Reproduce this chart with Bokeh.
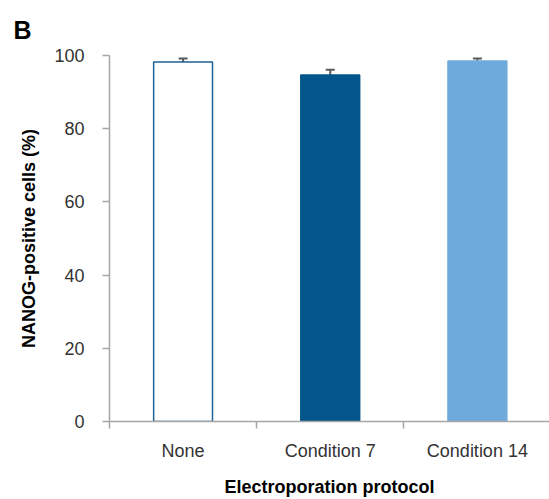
from bokeh.plotting import figure
from bokeh.models import ColumnDataSource, FixedTicker, Whisker, TeeHead, Range1d
from bokeh.embed import file_html
from bokeh.resources import INLINE

categories = ["None", "Condition 7", "Condition 14"]
values = [98.2, 94.7, 98.5]
errors = [1.0, 1.4, 0.7]
fills = ["#ffffff", "#03558b", "#6faadc"]
outlines = ["#1f6096", "#03558b", "#6faadc"]
y_ticks = [0, 20, 40, 60, 80, 100]

xs = [i + 0.5 for i in range(len(categories))]
src = ColumnDataSource(dict(
    x=xs, top=values, fill=fills, line=outlines,
    upper=[v + e for v, e in zip(values, errors)],
    lower=[v - e for v, e in zip(values, errors)],
))

p = figure(width=549, height=499, output_backend="svg", toolbar_location=None,
           x_range=Range1d(0, 2.99), y_range=Range1d(0, 100),
           min_border_left=109, min_border_right=0, min_border_top=55, min_border_bottom=78,
           title="B")
p.outline_line_color = None
p.xgrid.visible = False
p.ygrid.visible = False

p.title.text_font = "Liberation Sans"
p.title.text_font_size = "25px"
p.title.text_font_style = "bold"
p.title.align = "left"
p.title.offset = -96
p.title.standoff = 24
p.title.text_color = "#000000"

p.vbar(x="x", top="top", width=0.4, bottom=0, source=src,
       fill_color="fill", line_color="line", line_width=1.5)

w = Whisker(base="x", upper="upper", lower="lower", source=src,
            line_color="#5a5a5a", line_width=2,
            upper_head=TeeHead(size=9, line_color="#5a5a5a", line_width=2),
            lower_head=TeeHead(size=9, line_color="#5a5a5a", line_width=2))
p.add_layout(w)

grey = "#a6a6a6"
# x axis
p.xaxis.ticker = FixedTicker(ticks=xs, minor_ticks=list(range(len(categories) + 1)))
p.xaxis.major_label_overrides = {x: c for x, c in zip(xs, categories)}
p.xaxis.major_tick_line_color = None
p.xaxis.major_tick_out = 7
p.xaxis.major_tick_in = 0
p.xaxis.minor_tick_out = 7
p.xaxis.minor_tick_in = 0
p.xaxis.minor_tick_line_color = grey
p.xaxis.minor_tick_line_width = 1.5
p.xaxis.axis_line_color = grey
p.xaxis.axis_line_width = 1.5
p.xaxis.major_label_standoff = 12
p.xaxis.axis_label = "Electroporation protocol"
p.xaxis.axis_label_standoff = 13

# y axis
p.yaxis.ticker = FixedTicker(ticks=y_ticks, minor_ticks=[])
p.yaxis.major_tick_out = 7
p.yaxis.major_tick_in = 0
p.yaxis.major_tick_line_color = grey
p.yaxis.major_tick_line_width = 1.5
p.yaxis.axis_line_color = grey
p.yaxis.axis_line_width = 1.5
p.yaxis.major_label_standoff = 18
p.yaxis.axis_label = "NANOG-positive cells (%)"
p.yaxis.axis_label_standoff = 12

for ax in (p.xaxis, p.yaxis):
    ax.major_label_text_font = "Liberation Sans"
    ax.major_label_text_font_size = "18px"
    ax.major_label_text_color = "#333333"
    ax.axis_label_text_font = "Liberation Sans"
    ax.axis_label_text_font_size = "18px"
    ax.axis_label_text_font_style = "bold"
    ax.axis_label_text_color = "#000000"

open("out.html", "w").write(file_html(p, INLINE))
